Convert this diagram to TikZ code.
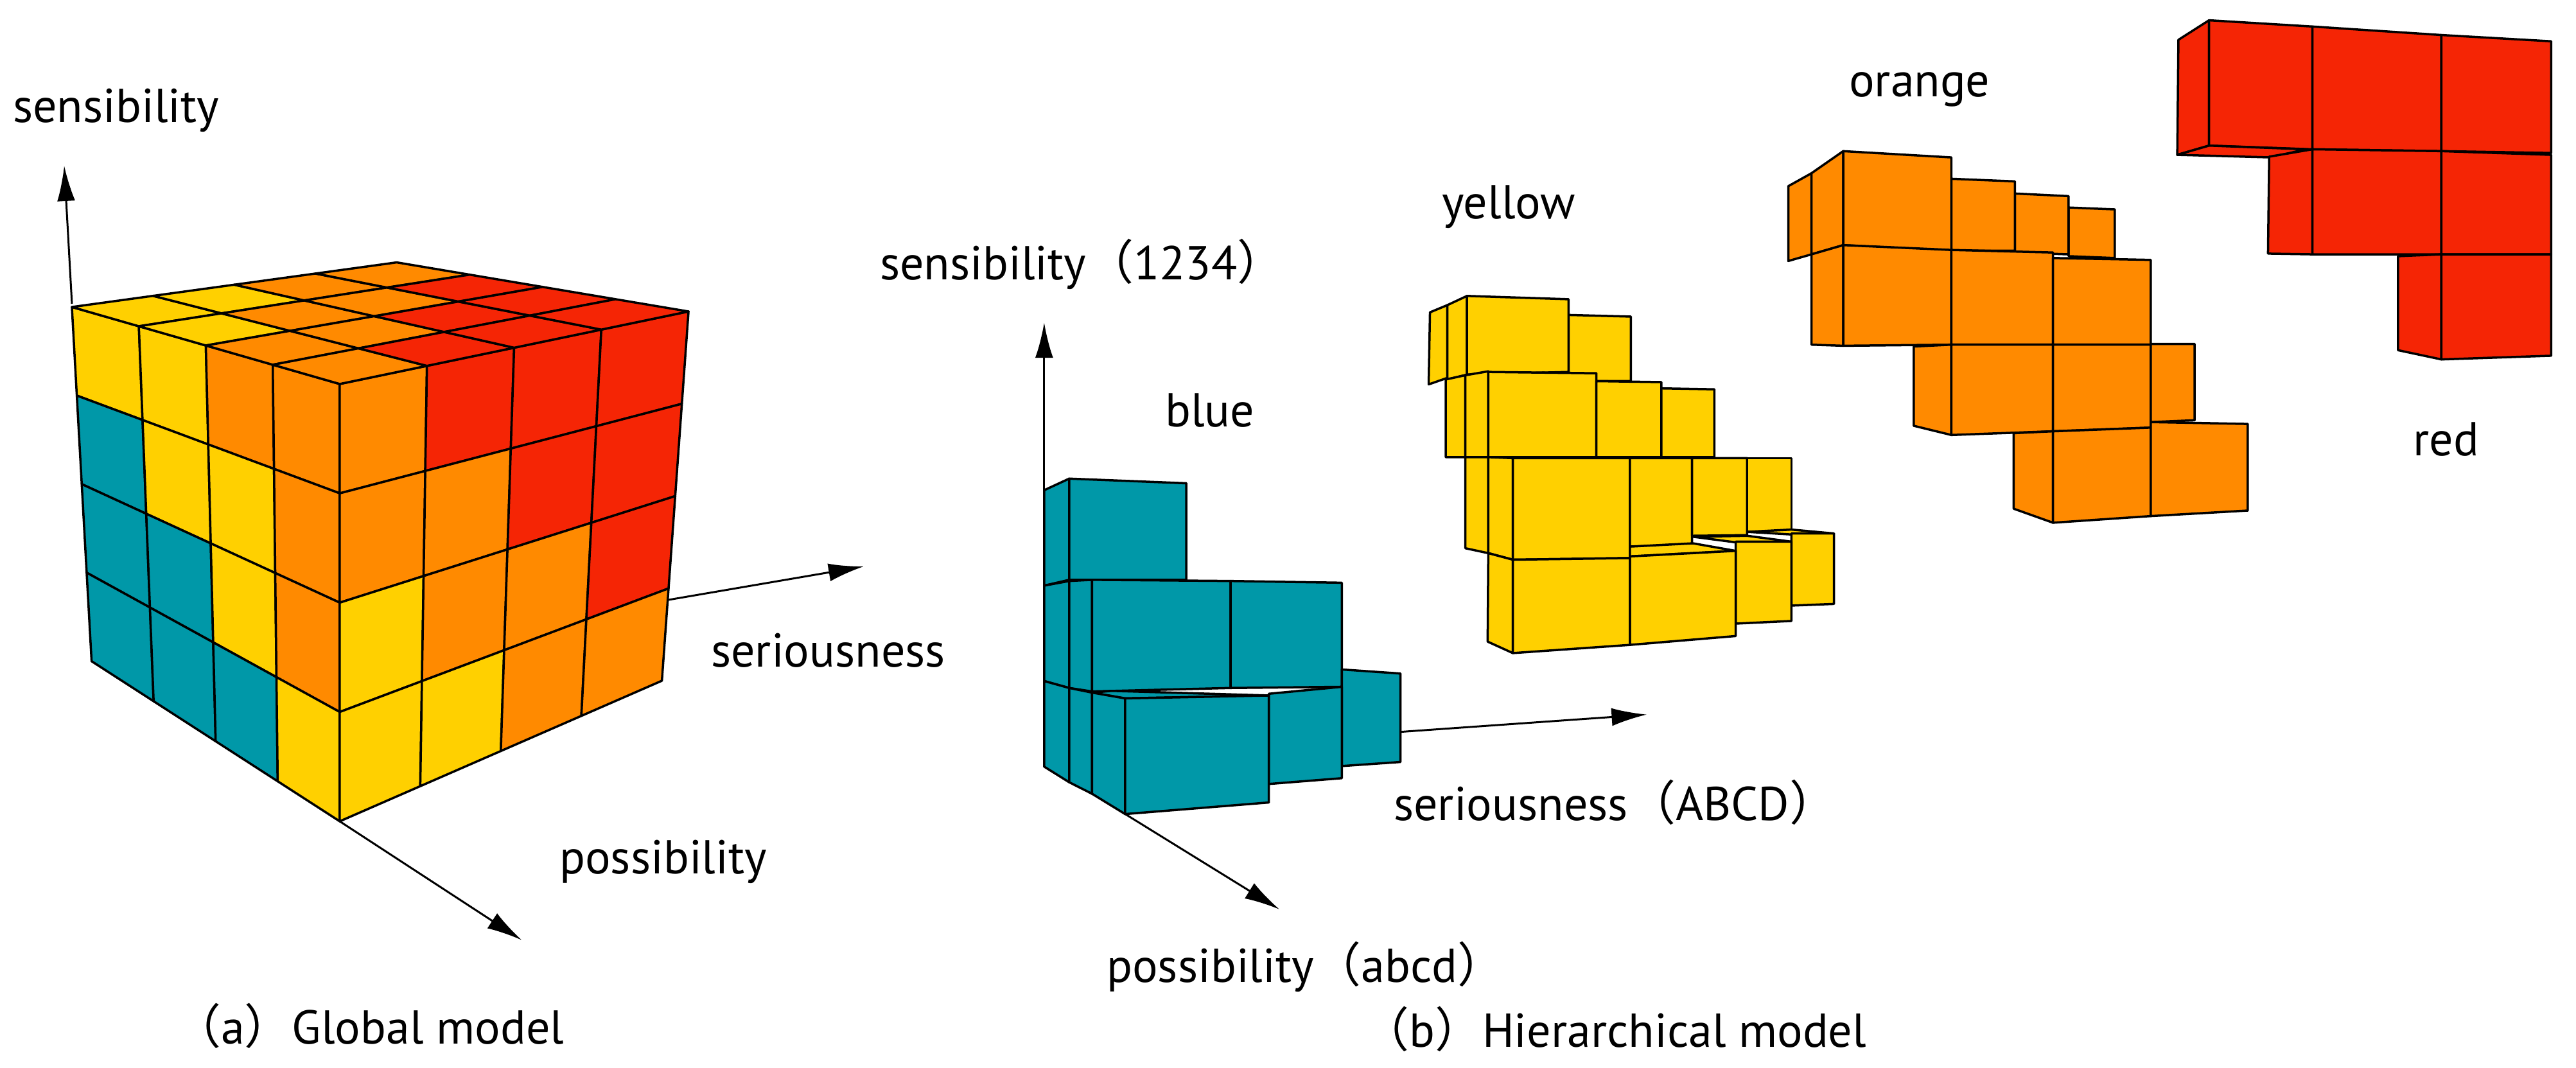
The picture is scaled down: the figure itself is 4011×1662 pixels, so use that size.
\documentclass[tikz,border=0pt]{standalone}
\usepackage{fontspec}
\setmainfont{PT Sans}
\newfontfamily\cjk{Noto Sans CJK SC}
\usetikzlibrary{calc,arrows.meta}
\definecolor{cY}{HTML}{FFD000}
\definecolor{cO}{HTML}{FF8A00}
\definecolor{cR}{HTML}{F52505}
\definecolor{cB}{HTML}{0098A8}
\tikzset{
 edge/.style={draw=black,line width=3.5pt,line join=round},
 blk/.style={draw=black,line width=3.5pt,line join=round},
 axis/.style={line width=3pt,-{Latex[length=55pt,width=28pt]}},
 lbl/.style={inner sep=0pt,anchor=base west,font=\fontsize{74}{88}\selectfont}
}
\newcommand\gridface[5]{%
 \coordinate (qa) at #1; \coordinate (qb) at #2; \coordinate (qc) at #3; \coordinate (qd) at #4;
 \foreach \row [count=\r from 0] in {#5} {
  \foreach \c [count=\k from 0] in \row {
   \pgfmathsetmacro\ua{\k/4}\pgfmathsetmacro\ub{(\k+1)/4}%
   \pgfmathsetmacro\va{\r/4}\pgfmathsetmacro\vb{(\r+1)/4}%
   \coordinate (e1) at ($(qa)!\ua!(qb)$); \coordinate (e2) at ($(qd)!\ua!(qc)$);
   \coordinate (e3) at ($(qa)!\ub!(qb)$); \coordinate (e4) at ($(qd)!\ub!(qc)$);
   \filldraw[edge,fill=\c] ($(e1)!\va!(e2)$) -- ($(e3)!\va!(e4)$) -- ($(e3)!\vb!(e4)$) -- ($(e1)!\vb!(e2)$) -- cycle;
 }}}
\begin{document}
\begin{tikzpicture}[x=1pt,y=-1pt]
\useasboundingbox (0,0) rectangle (4011,1662);
% ---------- (a) global model ----------
\coordinate (sA0) at (112,473); \coordinate (sA1) at (100,258);
\draw[axis] (sA0) -- (sA1);
\begin{scope}[shift={(0,300)},xscale=0.8291,yscale=0.8686]
 \coordinate (pA0) at (638,1127); \coordinate (pA1) at (980,1340);
 \coordinate (rA0) at (1255,730);
 \draw[axis] (pA0) -- (pA1);
 \gridface{(135,205)}{(638,343)}{(638,1127)}{(172,840)}{{cY,cY,cO,cO},{cB,cY,cY,cO},{cB,cB,cY,cO},{cB,cB,cB,cY}}
 \gridface{(638,343)}{(1293,213)}{(1243,875)}{(638,1127)}{{cO,cR,cR,cR},{cO,cO,cR,cR},{cY,cO,cO,cR},{cY,cY,cO,cO}}
 \gridface{(135,205)}{(745,125)}{(1293,213)}{(638,343)}{{cY,cY,cO,cO},{cY,cO,cO,cR},{cO,cO,cR,cR},{cO,cR,cR,cR}}
\end{scope}
\coordinate (rA1) at (1345,882);
\draw[axis] (rA0) -- (rA1);
\node[lbl] (tsA) at (20,190) {sensibility};
\node[lbl] (trA) at (1107,1038) {seriousness};
\node[lbl] (tpA) at (871,1360) {possibility};
\node[lbl] (capA) at (270,1625) {{\cjk （}a{\cjk ）}Global model};
% ---------- blue ----------
\begin{scope}[shift={(1300,250)},xscale=0.8291,yscale=0.9005]
 \coordinate (sB0) at (393,1048); \coordinate (sB1) at (393,280);
 \coordinate (pB0) at (545,1130); \coordinate (pB1) at (835,1295);
 \coordinate (rB0) at (1062,988); \coordinate (rB1) at (1525,958);
 \draw[axis] (sB0) -- (sB1);
 \draw[axis] (pB0) -- (pB1);
 \draw[axis] (rB0) -- (rB1);
 \filldraw[blk,fill=cB] (393,570)--(440,550)--(440,725)--(393,735)--cycle;
 \filldraw[blk,fill=cB] (440,550)--(660,558)--(660,725)--(440,725)--cycle;
 \filldraw[blk,fill=cB] (393,735)--(440,727)--(440,912)--(393,900)--cycle;
 \filldraw[blk,fill=cB] (440,727)--(483,725)--(483,918)--(440,912)--cycle;
 \filldraw[blk,fill=cB] (483,725)--(743,727)--(743,912)--(483,918)--cycle;
 \filldraw[blk,fill=cB] (743,727)--(952,730)--(952,910)--(743,912)--cycle;
 \filldraw[blk,fill=cB] (393,900)--(440,912)--(440,1075)--(393,1048)--cycle;
 \filldraw[blk,fill=cB] (440,912)--(483,920)--(483,1095)--(440,1075)--cycle;
 \filldraw[blk,fill=cB] (952,880)--(1062,887)--(1062,1040)--(952,1047)--cycle;
 \filldraw[blk,fill=cB] (815,922)--(952,910)--(952,1068)--(815,1078)--cycle;
 \filldraw[blk,fill=cB] (483,920)--(520,917)--(815,925)--(545,930)--cycle;
 \filldraw[blk,fill=cB] (483,920)--(545,930)--(545,1130)--(483,1095)--cycle;
 \filldraw[blk,fill=cB] (545,930)--(815,925)--(815,1110)--(545,1130)--cycle;
\end{scope}
% ---------- yellow ----------
\begin{scope}[shift={(2200,420)},scale=0.5102]
 \filldraw[blk,fill=cY] (475,138)--(665,143)--(665,340)--(475,340)--cycle;
 \filldraw[blk,fill=cY] (52,130)--(105,108)--(105,330)--(48,350)--cycle;
 \filldraw[blk,fill=cY] (105,108)--(165,80)--(165,320)--(105,335)--cycle;
 \filldraw[blk,fill=cY] (165,80)--(475,90)--(475,312)--(165,320)--cycle;
 \filldraw[blk,fill=cY] (100,335)--(160,322)--(160,572)--(100,572)--cycle;
 \filldraw[blk,fill=cY] (160,322)--(230,310)--(230,572)--(160,572)--cycle;
 \filldraw[blk,fill=cY] (230,312)--(560,316)--(560,572)--(230,572)--cycle;
 \filldraw[blk,fill=cY] (560,340)--(758,343)--(758,572)--(560,572)--cycle;
 \filldraw[blk,fill=cY] (758,362)--(920,365)--(920,572)--(758,572)--cycle;
 \filldraw[blk,fill=cY] (160,572)--(230,572)--(230,865)--(160,850)--cycle;
 \filldraw[blk,fill=cY] (230,572)--(305,575)--(305,885)--(230,865)--cycle;
 \filldraw[blk,fill=cY] (305,575)--(662,575)--(662,880)--(305,885)--cycle;
 \filldraw[blk,fill=cY] (662,575)--(852,575)--(852,840)--(662,845)--cycle;
 \filldraw[blk,fill=cY] (852,575)--(1020,575)--(1020,810)--(852,812)--cycle;
 \filldraw[blk,fill=cY] (1020,575)--(1155,575)--(1155,800)--(1020,800)--cycle;
 \filldraw[blk,fill=cY] (1020,800)--(1155,793)--(1285,805)--(1155,808)--cycle;
 \filldraw[blk,fill=cY] (1155,805)--(1285,805)--(1285,1020)--(1155,1025)--cycle;
 \filldraw[blk,fill=cY] (855,815)--(1020,812)--(1155,830)--(985,832)--cycle;
 \filldraw[blk,fill=cY] (985,830)--(1155,830)--(1155,1072)--(985,1080)--cycle;
 \filldraw[blk,fill=cY] (662,845)--(855,835)--(985,858)--(662,875)--cycle;
 \filldraw[blk,fill=cY] (662,875)--(985,858)--(985,1118)--(662,1145)--cycle;
 \filldraw[blk,fill=cY] (230,865)--(305,885)--(305,1170)--(228,1135)--cycle;
 \filldraw[blk,fill=cY] (305,885)--(662,880)--(662,1145)--(305,1170)--cycle;
\end{scope}
% ---------- orange & red ----------
\begin{scope}[shift={(2600,0)},xscale=0.8999,yscale=0.574]
 \filldraw[blk,fill=cO] (690,563)--(770,568)--(770,700)--(690,695)--cycle;
 \filldraw[blk,fill=cO] (597,525)--(690,532)--(690,690)--(597,685)--cycle;
 \filldraw[blk,fill=cO] (487,485)--(597,492)--(597,680)--(487,680)--cycle;
 \filldraw[blk,fill=cO] (205,505)--(245,470)--(245,690)--(205,708)--cycle;
 \filldraw[blk,fill=cO] (245,470)--(300,410)--(300,665)--(245,690)--cycle;
 \filldraw[blk,fill=cO] (300,410)--(487,427)--(487,680)--(300,665)--cycle;
 \filldraw[blk,fill=cO] (245,690)--(300,665)--(300,938)--(245,935)--cycle;
 \filldraw[blk,fill=cO] (300,665)--(487,678)--(487,935)--(300,938)--cycle;
 \filldraw[blk,fill=cO] (487,678)--(663,685)--(663,935)--(487,935)--cycle;
 \filldraw[blk,fill=cO] (663,700)--(832,705)--(832,935)--(663,935)--cycle;
 \filldraw[blk,fill=cO] (422,940)--(487,935)--(487,1180)--(422,1155)--cycle;
 \filldraw[blk,fill=cO] (487,935)--(663,935)--(663,1170)--(487,1180)--cycle;
 \filldraw[blk,fill=cO] (663,935)--(832,935)--(832,1160)--(663,1170)--cycle;
 \filldraw[blk,fill=cO] (832,933)--(908,933)--(908,1140)--(832,1145)--cycle;
 \filldraw[blk,fill=cO] (595,1175)--(663,1170)--(663,1418)--(595,1380)--cycle;
 \filldraw[blk,fill=cO] (663,1170)--(832,1160)--(832,1400)--(663,1418)--cycle;
 \filldraw[blk,fill=cO] (832,1145)--(1000,1150)--(1000,1385)--(832,1400)--cycle;
 \filldraw[blk,fill=cR] (880,108)--(933,55)--(933,395)--(878,420)--cycle;
 \filldraw[blk,fill=cR] (933,55)--(1112,72)--(1112,405)--(933,395)--cycle;
 \filldraw[blk,fill=cR] (1112,72)--(1335,95)--(1335,410)--(1112,405)--cycle;
 \filldraw[blk,fill=cR] (1335,95)--(1525,112)--(1525,415)--(1335,410)--cycle;
 \filldraw[blk,fill=cR] (878,420)--(933,395)--(1100,405)--(1040,427)--cycle;
 \filldraw[blk,fill=cR] (1037,425)--(1112,405)--(1112,690)--(1035,688)--cycle;
 \filldraw[blk,fill=cR] (1112,405)--(1335,410)--(1335,690)--(1112,690)--cycle;
 \filldraw[blk,fill=cR] (1335,410)--(1525,420)--(1525,690)--(1335,690)--cycle;
 \filldraw[blk,fill=cR] (1260,695)--(1335,690)--(1335,975)--(1260,950)--cycle;
 \filldraw[blk,fill=cR] (1335,690)--(1525,690)--(1525,965)--(1335,975)--cycle;
\end{scope}
% ---------- (b) labels ----------
\node[lbl] (tsB) at (1370,435) {sensibility{\cjk （}1234{\cjk ）}};
\node[lbl] (tblue) at (1814,664) {blue};
\node[lbl] (tyel) at (2245,340) {yellow};
\node[lbl] (tora) at (2879,150) {orange};
\node[lbl] (tred) at (3757,709) {red};
\node[lbl] (trB) at (2170,1277) {seriousness{\cjk （}ABCD{\cjk ）}};
\node[lbl] (tpB) at (1723,1529) {possibility{\cjk （}abcd{\cjk ）}};
\node[lbl] (capB) at (2120,1630) {{\cjk （}b{\cjk ）}Hierarchical model};
\end{tikzpicture}
\end{document}
